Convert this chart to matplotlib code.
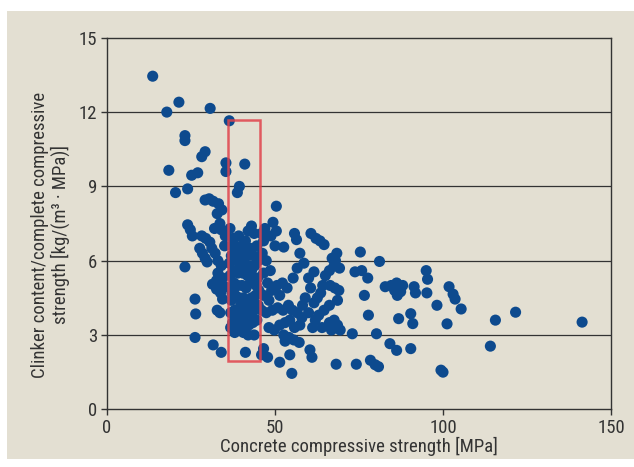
import matplotlib
matplotlib.use("Agg")
import matplotlib.pyplot as plt
from matplotlib import font_manager
from matplotlib.patches import Rectangle

# narrow font if one is installed
font_name = 'DejaVu Sans'
font_size = 11.5
for cand in ['Liberation Sans Narrow', 'DejaVu Sans Condensed', 'Roboto Condensed']:
    try:
        font_manager.findfont(cand, fallback_to_default=False)
        font_name = cand
        font_size = 13.5
        break
    except ValueError:
        pass
plt.rcParams['font.family'] = [font_name, 'DejaVu Sans']

# scatter data: (strength MPa, clinker/strength)
pts_top = [(13.6, 13.45), (17.8, 12.0), (21.4, 12.4), (30.7, 12.15), (36.4, 11.65),
           (23.2, 11.05), (23.2, 10.85), (18.4, 9.65), (20.4, 8.75), (24.0, 8.9),
           (25.2, 9.45), (27.0, 9.55), (28.2, 10.2), (29.2, 10.4), (35.4, 9.95),
           (35.4, 9.6), (41.0, 9.9), (39.4, 9.0), (38.8, 8.75), (50.4, 8.2)]

pts_left = [(29.2, 8.45), (30.4, 8.5), (31.6, 8.4), (33.2, 8.3), (34.2, 8.05), (32.8, 7.9),
            (33.6, 7.5), (34.0, 7.25), (32.0, 7.3), (24.0, 7.45), (24.8, 7.25), (25.4, 7.0),
            (28.2, 7.0), (29.4, 6.9), (30.6, 6.75), (31.2, 6.5), (27.6, 6.5), (28.4, 6.3),
            (29.2, 6.1), (29.8, 5.95), (32.2, 6.3), (33.0, 6.0), (34.0, 5.8), (33.0, 5.5),
            (34.4, 5.3), (32.6, 5.2), (31.4, 5.05), (32.6, 4.85), (33.8, 4.7), (35.0, 4.95),
            (34.4, 4.45), (35.0, 6.6), (35.2, 7.0), (23.2, 5.75), (26.4, 3.85), (26.2, 4.45),
            (32.8, 4.0), (33.6, 3.9), (26.2, 2.9), (31.6, 2.6), (34.0, 2.3)]

pts_box = [(36.6, 7.3), (37.5, 6.9), (38.2, 6.6), (37.0, 6.2), (38.5, 6.0), (39.6, 5.9),
           (40.6, 6.0), (41.6, 6.2), (42.6, 6.5), (43.0, 7.4), (43.8, 7.1), (42.0, 7.2),
           (44.6, 6.6), (45.0, 6.0), (44.0, 5.8), (43.0, 5.6), (41.8, 5.4), (40.4, 5.5),
           (39.0, 5.5), (37.6, 5.6), (36.6, 5.4), (36.6, 4.9), (37.8, 5.1), (39.0, 5.0),
           (40.2, 5.0), (41.4, 4.9), (42.6, 5.1), (43.8, 5.2), (44.8, 5.3), (45.2, 4.8),
           (44.2, 4.6), (43.0, 4.5), (41.8, 4.4), (40.6, 4.5), (39.4, 4.5), (38.2, 4.6),
           (37.0, 4.4), (36.8, 3.9), (38.0, 4.0), (39.2, 4.0), (40.4, 3.95), (41.6, 3.9),
           (42.8, 4.0), (44.0, 4.05), (45.0, 4.2), (44.6, 3.6), (43.4, 3.5), (42.2, 3.4),
           (41.0, 3.5), (39.8, 3.4), (38.6, 3.3), (37.4, 3.5), (38.0, 3.1), (39.2, 3.2),
           (42.0, 3.0), (40.2, 6.6), (39.2, 7.0), (41.2, 6.8), (36.4, 5.9), (43.6, 6.2),
           (41.2, 2.3), (37.2, 6.6), (38.8, 6.3), (40.0, 6.3), (41.0, 5.7), (42.4, 5.8),
           (39.8, 4.2), (41.2, 4.2), (43.6, 4.3), (38.4, 3.7), (40.2, 3.7), (43.2, 3.8),
           (37.2, 4.7), (44.4, 5.0), (36.8, 3.3), (40.6, 3.1), (43.8, 3.0)]

pts_mid = [(46.0, 7.1), (46.6, 6.8), (47.0, 7.3), (49.4, 7.55), (50.4, 7.2), (48.8, 7.0),
           (50.0, 6.6), (52.6, 6.55), (55.8, 7.1), (56.4, 6.85), (57.4, 6.3), (56.6, 5.7),
           (55.4, 5.3), (46.2, 6.3), (47.4, 6.0), (48.6, 5.6), (46.6, 5.5), (47.8, 5.1),
           (49.0, 4.8), (50.6, 5.0), (52.2, 5.1), (53.6, 4.9), (51.4, 4.6), (48.2, 4.4),
           (46.6, 4.6), (46.0, 4.0), (47.4, 3.9), (49.2, 4.0), (50.8, 4.1), (52.4, 4.0),
           (54.0, 4.2), (55.2, 4.0), (56.6, 3.9), (58.0, 3.7), (57.4, 3.4), (55.8, 3.3),
           (54.4, 3.6), (53.0, 3.5), (51.4, 3.4), (49.8, 3.2), (48.2, 3.3), (52.6, 3.0),
           (54.2, 2.9), (55.6, 2.8), (57.2, 2.7), (53.0, 2.75), (46.6, 2.45), (47.8, 2.1),
           (46.0, 2.2), (51.4, 1.9), (54.4, 2.2), (55.0, 1.45), (60.4, 2.4), (61.0, 2.1)]

pts_right = [(60.7, 7.1), (62.2, 6.9), (63.4, 6.8), (64.6, 6.65), (61.6, 5.55), (58.6, 5.9),
             (60.0, 5.3), (60.6, 4.9), (59.0, 4.5), (58.2, 4.2), (60.0, 3.9), (61.6, 4.3),
             (62.6, 4.5), (63.6, 4.7), (64.2, 5.0), (65.0, 5.4), (66.2, 5.6), (67.6, 5.8),
             (67.0, 6.1), (68.4, 6.3), (68.0, 6.0), (69.2, 5.7), (66.4, 5.0), (67.8, 4.9),
             (69.0, 4.8), (68.6, 4.4), (66.2, 4.2), (64.6, 4.0), (63.0, 3.8), (62.0, 3.6),
             (64.0, 3.3), (66.2, 3.5), (67.6, 3.6), (68.6, 3.4), (69.4, 3.2), (66.8, 3.2),
             (61.2, 3.3), (73.0, 3.05), (68.2, 1.82), (74.2, 1.82), (75.4, 6.35), (73.8, 5.55),
             (75.8, 5.6), (77.6, 5.3), (76.6, 4.6), (81.1, 5.97), (82.8, 4.95), (84.6, 5.0),
             (86.2, 5.1), (85.6, 4.8), (87.4, 4.75), (88.0, 5.0), (86.4, 4.6), (91.4, 4.95),
             (91.8, 4.7), (95.0, 5.6), (95.4, 5.25), (95.2, 4.7), (98.2, 4.2), (101.8, 4.95),
             (103.0, 4.65), (103.6, 4.45), (105.4, 4.05), (101.2, 3.45), (115.6, 3.6),
             (121.6, 3.92), (141.4, 3.52), (114.1, 2.55), (99.4, 1.58), (100.0, 1.5),
             (90.4, 2.45), (86.2, 2.38), (84.2, 2.65), (80.2, 3.05), (77.8, 3.8), (90.4, 3.86),
             (91.0, 3.46), (86.8, 3.66), (80.8, 1.72), (78.4, 1.98), (79.8, 1.8)]

all_pts = pts_top + pts_left + pts_box + pts_mid + pts_right
strength = [p[0] for p in all_pts]
ratio = [p[1] for p in all_pts]

# highlighted range
box_x = (35.9, 45.5)
box_y = (1.96, 11.68)

x_ticks = [0, 50, 100, 150]
y_ticks = [0, 3, 6, 9, 12, 15]

beige = '#e3dfd2'
fig = plt.figure(figsize=(6.34, 4.67), dpi=100, facecolor='white')
bg = Rectangle((7 / 634, 8 / 467), 1 - 7 / 634, 1 - 19 / 467,
               transform=fig.transFigure, facecolor=beige, edgecolor='none')
bg.set_zorder(-10)
fig.add_artist(bg)

ax = fig.add_axes([107 / 634, 1 - 409.3 / 467, 504 / 634, 371.5 / 467])
ax.set_facecolor(beige)

for yv in y_ticks[1:-1]:
    ax.axhline(yv, color='#333333', lw=0.9, zorder=1)

ax.scatter(strength, ratio, s=64, color='#0d4a8e', edgecolors='none', zorder=2)

ax.add_patch(Rectangle((box_x[0], box_y[0]), box_x[1] - box_x[0], box_y[1] - box_y[0],
                       fill=False, edgecolor='#e0434c', lw=1.8, alpha=0.85, zorder=3))

ax.set_xlim(0, 150)
ax.set_ylim(0, 15)
ax.set_xticks(x_ticks)
ax.set_yticks(y_ticks)
ax.tick_params(direction='out', length=4, width=1, color='#333333',
               labelsize=font_size, labelcolor='#333333', pad=3)
for sp in ax.spines.values():
    sp.set_color('#333333')
    sp.set_linewidth(1)

ax.set_xlabel('Concrete compressive strength [MPa]', fontsize=font_size, color='#333333',
              labelpad=0)
ax.set_ylabel('Clinker content/complete compressive\nstrength [kg/(m³ · MPa)]',
              fontsize=font_size, color='#333333', linespacing=1.1)
ax.yaxis.set_label_coords(-0.074, 0.47)

fig.savefig('out.png', dpi=100, facecolor=fig.get_facecolor())
